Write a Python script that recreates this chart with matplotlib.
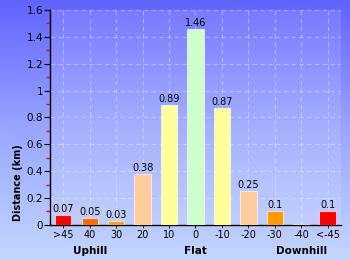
import numpy as np
import matplotlib
matplotlib.use("Agg")
import matplotlib.pyplot as plt
from matplotlib.colors import LinearSegmentedColormap

# gradient categories (percent) and distance in km
categories = ['>45', '40', '30', '20', '10', '0', '-10', '-20', '-30', '-40', '<-45']
distance = [0.07, 0.05, 0.03, 0.38, 0.89, 1.46, 0.87, 0.25, 0.1, 0.005, 0.1]
value_labels = ['0.07', '0.05', '0.03', '0.38', '0.89', '1.46', '0.87', '0.25', '0.1', '', '0.1']
bar_colors = ['#ff0000', '#ff6a00', '#ffa200', '#ffcc99', '#ffff99', '#ccffcc',
              '#ffff99', '#ffcc99', '#ff9900', '#ff6a00', '#ff0000']
groups = ['Uphill', 'Flat', 'Downhill']
group_pos = [1, 5, 9]

fig = plt.figure(figsize=(3.5, 2.6), dpi=100)

# background gradient over the whole figure
bg = fig.add_axes([0, 0, 1, 1], zorder=-10)
cmap = LinearSegmentedColormap.from_list('bg', ['#6262ff', '#9aa6ff', '#c4d6ff'])
bg.imshow(np.linspace(0, 1, 256).reshape(-1, 1), aspect='auto', cmap=cmap,
          extent=[0, 1, 0, 1])
bg.axis('off')

ax = fig.add_axes([0.143, 0.135, 0.831, 0.827])
ax.set_facecolor((1, 1, 1, 0.12))

x = np.arange(len(categories))
ax.bar(x, distance, width=0.62, color=bar_colors, edgecolor=(1, 1, 1, 0.6),
       linewidth=0.8, zorder=3)
for xi, v, lab in zip(x, distance, value_labels):
    if lab:
        ax.text(xi, v + 0.008, lab, ha='center', va='bottom', fontsize=7,
                color='black', zorder=4)

ax.set_xlim(-0.5, len(categories) - 0.5)
ax.set_ylim(0, 1.6)
ax.set_xticks(x)
ax.set_xticklabels(categories, fontsize=7)
ax.set_yticks(np.arange(0, 1.61, 0.2))
ax.set_yticklabels(['0', '0.2', '0.4', '0.6', '0.8', '1', '1.2', '1.4', '1.6'], fontsize=7.5)
ax.set_yticks(np.arange(0.1, 1.6, 0.2), minor=True)
ax.tick_params(axis='y', which='major', length=4, width=0.8, pad=1)
ax.tick_params(axis='y', which='minor', length=3, width=1, color='red')
ax.tick_params(axis='x', length=2, width=0.6, pad=2)

ax.grid(True, which='major', color='white', alpha=0.35, linestyle=(0, (4, 3)),
        linewidth=0.8, zorder=0)
ax.set_axisbelow(True)
for s in ['top', 'right']:
    ax.spines[s].set_visible(False)
ax.spines['left'].set_linewidth(1)
ax.spines['bottom'].set_linewidth(1)

for g, p in zip(groups, group_pos):
    ax.text(p, -0.195, g, ha='center', va='center', fontsize=7.5,
            fontweight='bold', transform=ax.transData, clip_on=False)

fig.text(18 / 350, 1 - 183 / 260, 'Distance (km)', rotation=90, ha='center',
         va='center', fontsize=7, fontweight='bold')

fig.savefig('out.png', dpi=100)
